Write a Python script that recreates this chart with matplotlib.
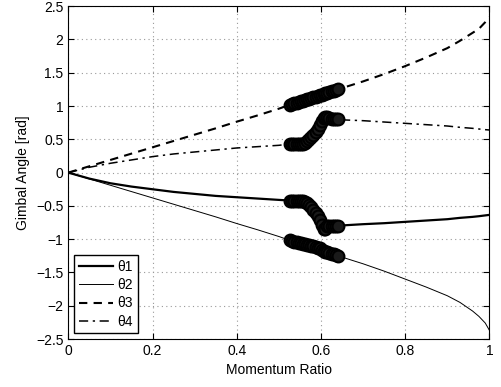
import numpy as np
import matplotlib
matplotlib.use('Agg')
import matplotlib.pyplot as plt

plt.rcParams['font.family'] = ['Liberation Sans', 'DejaVu Sans']

# momentum ratio samples: before the marked region, inside it, after it
x_pre = [0.0, 0.05, 0.1, 0.15, 0.2, 0.25, 0.3, 0.35, 0.4, 0.45, 0.5]
x_mark = [0.527, 0.532, 0.537, 0.542, 0.547, 0.552, 0.557, 0.562, 0.567, 0.572,
          0.577, 0.582, 0.587, 0.592, 0.597, 0.602, 0.606, 0.61, 0.615, 0.62,
          0.625, 0.63, 0.635, 0.64]
x_post = [0.66, 0.7, 0.75, 0.8, 0.85, 0.9, 0.93, 0.96, 0.975, 0.99, 1.0]

# gimbal angles [rad]
th1_pre = [0.0, -0.09, -0.16, -0.21, -0.25, -0.29, -0.32, -0.35, -0.37, -0.39, -0.41]
th1_mark = [-0.42, -0.42, -0.42, -0.42, -0.42, -0.425, -0.43, -0.44, -0.46, -0.49,
            -0.52, -0.56, -0.60, -0.65, -0.71, -0.78, -0.84, -0.84, -0.80, -0.80,
            -0.80, -0.80, -0.80, -0.80]
th1_post = [-0.79, -0.775, -0.76, -0.74, -0.72, -0.70, -0.68, -0.665, -0.655, -0.643, -0.635]

th2_pre = [0.0, -0.095, -0.19, -0.285, -0.38, -0.475, -0.57, -0.665, -0.765, -0.86, -0.96]
th2_mark = [-1.02, -1.03, -1.04, -1.05, -1.06, -1.065, -1.07, -1.08, -1.085, -1.09,
            -1.10, -1.11, -1.12, -1.13, -1.14, -1.16, -1.18, -1.19, -1.20, -1.21,
            -1.22, -1.23, -1.24, -1.25]
th2_post = [-1.29, -1.37, -1.48, -1.60, -1.72, -1.85, -1.95, -2.08, -2.16, -2.26, -2.37]

th3_pre = [0.0, 0.095, 0.19, 0.285, 0.38, 0.475, 0.57, 0.665, 0.765, 0.86, 0.96]
th3_mark = [1.02, 1.03, 1.04, 1.05, 1.06, 1.07, 1.08, 1.09, 1.10, 1.11,
            1.12, 1.13, 1.14, 1.15, 1.16, 1.17, 1.18, 1.19, 1.20, 1.21,
            1.22, 1.23, 1.24, 1.25]
th3_post = [1.29, 1.37, 1.48, 1.60, 1.73, 1.87, 1.98, 2.10, 2.16, 2.26, 2.34]

th4_pre = [0.0, 0.08, 0.14, 0.19, 0.24, 0.28, 0.31, 0.34, 0.37, 0.39, 0.41]
th4_mark = [0.43, 0.43, 0.43, 0.43, 0.43, 0.43, 0.435, 0.45, 0.47, 0.50,
            0.53, 0.57, 0.61, 0.66, 0.72, 0.78, 0.82, 0.84, 0.83, 0.82,
            0.81, 0.80, 0.80, 0.80]
th4_post = [0.79, 0.78, 0.76, 0.74, 0.72, 0.70, 0.68, 0.665, 0.655, 0.645, 0.64]

series = [
    ('θ1', th1_pre, th1_mark, th1_post, dict(color='k', lw=1.6, ls='-')),
    ('θ2', th2_pre, th2_mark, th2_post, dict(color='k', lw=0.7, ls='-')),
    ('θ3', th3_pre, th3_mark, th3_post, dict(color='k', lw=1.5, ls=(0, (4, 3)))),
    ('θ4', th4_pre, th4_mark, th4_post, dict(color='k', lw=1.1, ls=(0, (6, 3, 1.5, 3)))),
]

fig = plt.figure(figsize=(5.02, 3.87), dpi=100)
ax = fig.add_axes([0.136, 0.124, 0.839, 0.860])

x_all = x_pre + x_mark + x_post
handles = []
for name, pre, mark, post, style in series:
    h, = ax.plot(x_all, pre + mark + post, label=name, **style)
    handles.append(h)
for name, pre, mark, post, style in series:
    ax.plot(x_mark, mark, ls='none', marker='o', ms=8.5,
            mfc='#1a1a1a', mec='k', mew=1.5)

ax.set_xlim(0, 1)
ax.set_ylim(-2.5, 2.5)
ax.set_xticks([0, 0.2, 0.4, 0.6, 0.8, 1])
ax.set_xticklabels(['0', '0.2', '0.4', '0.6', '0.8', '1'])
ax.set_yticks(np.arange(-2.5, 2.51, 0.5))
ax.set_yticklabels(['\u22122.5', '\u22122', '\u22121.5', '\u22121', '\u22120.5', '0',
                    '0.5', '1', '1.5', '2', '2.5'])
ax.tick_params(direction='in', length=4, labelsize=10, top=True, right=True,
               labeltop=False, labelright=False)
ax.grid(True, ls=(0, (1, 3)), color='#999999', lw=0.8)
ax.set_xlabel('Momentum Ratio', fontsize=10)
ax.set_ylabel('Gimbal Angle [rad]', fontsize=10)

leg = ax.legend(handles=handles, loc='lower left', fontsize=10, fancybox=False,
                framealpha=1, edgecolor='k', handlelength=2.5, borderaxespad=0.4,
                labelspacing=0.3, handletextpad=0.3, borderpad=0.35)
leg.get_frame().set_linewidth(1.0)

fig.savefig('out.png', dpi=100)
